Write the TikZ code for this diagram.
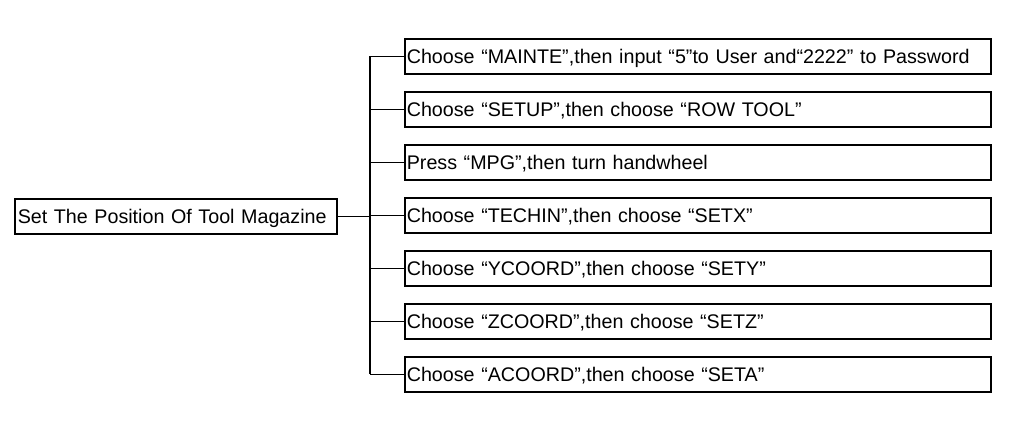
\documentclass[tikz,border=0pt]{standalone}
\usepackage{fontspec}
\setmainfont{Liberation Sans}
\begin{document}
\begin{tikzpicture}[x=1pt,y=-1pt,
  bx/.style={draw,line width=1.6pt,anchor=north west,inner sep=0pt,minimum height=35pt,font=\fontsize{19.7}{22}\selectfont,align=left,text depth=0pt},
  ln/.style={line width=1.6pt}]
\useasboundingbox (0,0) rectangle (1024,423);
\node[bx,minimum width=322pt,text width=318pt] (s) at (14,198) {\hspace{1pt}Set The Position Of Tool Magazine};
\coordinate (v) at (370,215);
\foreach \i/\t in {1/{Choose “MAINTE”,then input “5”to User and“2222” to Password},
  2/{Choose “SETUP”,then choose “ROW TOOL”},
  3/{Press “MPG”,then turn handwheel},
  4/{Choose “TECHIN”,then choose “SETX”},
  5/{Choose “YCOORD”,then choose “SETY”},
  6/{Choose “ZCOORD”,then choose “SETZ”},
  7/{Choose “ACOORD”,then choose “SETA”}}{
  \node[bx,minimum width=586pt,text width=582pt] (b\i) at (404,{38+53*(\i-1)}) {\hspace{0pt}\t};
  \draw[ln] (b\i.west) -- (b\i.west -| v);
}
\draw[ln] (b1.west -| v) -- (b7.west -| v);
\draw[ln] (s.east) -- (s.east -| v);
\end{tikzpicture}
\end{document}
